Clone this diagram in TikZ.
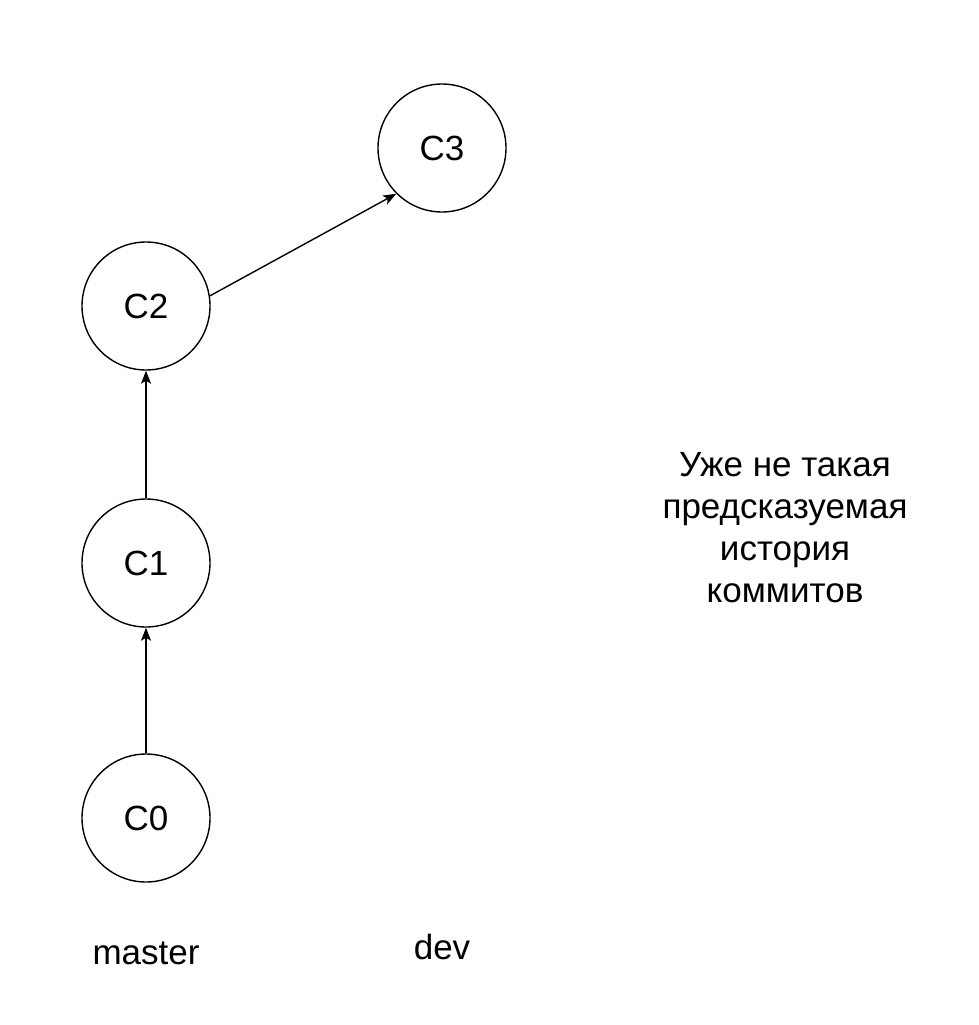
\documentclass[tikz,border=0pt]{standalone}
\usepackage{fontspec}
\setmainfont{Liberation Sans}
\usetikzlibrary{arrows.meta}

\begin{document}
\begin{tikzpicture}[x=1pt,y=-1pt,
  commit/.style={draw,circle,line width=1.4pt,minimum size=128pt,inner sep=0pt,font=\fontsize{35}{42}\selectfont},
  branch/.style={anchor=base,inner sep=0pt,font=\fontsize{35}{42}\selectfont},
  link/.style={line width=1.4pt,-{Stealth[length=13pt,width=10pt,inset=3pt]}}]
\path[use as bounding box,fill=white] (0,0) rectangle (979,1025);
\node[commit] (c0) at (146,818) {C0};
\node[commit] (c1) at (146,563) {C1};
\node[commit] (c2) at (146,306) {C2};
\node[commit] (c3) at (442,148) {C3};
\draw[link] (c0) -- (c1);
\draw[link] (c1) -- (c2);
\draw[link] (c2.9) -- (c3.225);
\node[branch] (master) at (146,964) {master};
\node[branch] (dev) at (442,959) {dev};
\node[align=center,inner sep=0pt,font=\fontsize{35}{42}\selectfont] (note) at (785,528)
  {Уже не такая\\предсказуемая\\история\\коммитов};
\end{tikzpicture}
\end{document}
